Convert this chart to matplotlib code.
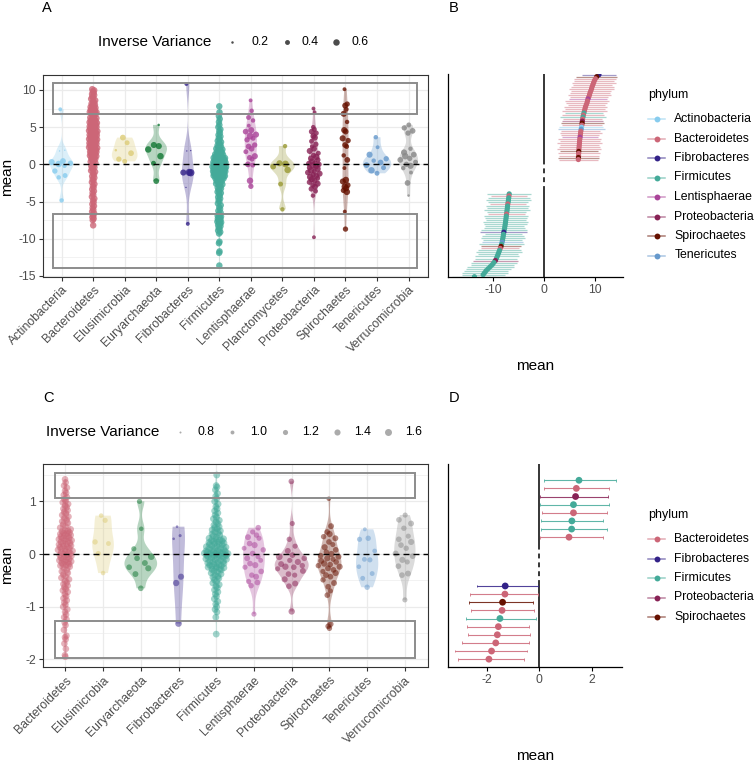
import numpy as np
import matplotlib
matplotlib.use("Agg")
import matplotlib.pyplot as plt
from matplotlib.patches import Rectangle

plt.rcParams['font.family'] = ['Liberation Sans', 'DejaVu Sans']
plt.rcParams['axes.unicode_minus'] = False

# ------------------------------------------------------------------ data
COLORS = {
    'Actinobacteria': '#88CCEE', 'Bacteroidetes': '#CC6677', 'Elusimicrobia': '#DDCC77',
    'Euryarchaeota': '#117733', 'Fibrobacteres': '#332288', 'Firmicutes': '#44AA99',
    'Lentisphaerae': '#AA4499', 'Planctomycetes': '#999933', 'Proteobacteria': '#882255',
    'Spirochaetes': '#661100', 'Tenericutes': '#6699CC', 'Verrucomicrobia': '#888888'}

phyla_a = ['Actinobacteria', 'Bacteroidetes', 'Elusimicrobia', 'Euryarchaeota', 'Fibrobacteres',
           'Firmicutes', 'Lentisphaerae', 'Planctomycetes', 'Proteobacteria', 'Spirochaetes',
           'Tenericutes', 'Verrucomicrobia']
phyla_c = ['Bacteroidetes', 'Elusimicrobia', 'Euryarchaeota', 'Fibrobacteres', 'Firmicutes',
           'Lentisphaerae', 'Proteobacteria', 'Spirochaetes', 'Tenericutes', 'Verrucomicrobia']

# Panel A: per-phylum means and inverse variances
a_actino = [7.4, 1.9, 1.8, 0.45, 0.3, 0.15, 0.05, -0.2, -0.9, -1.5, -1.75, -4.85]
a_actino_w = [0.3, 0.15, 0.15, 0.5, 0.55, 0.45, 0.6, 0.35, 0.45, 0.4, 0.35, 0.35]
a_bact = [10.1, 9.95, 9.8, 9.6, 9.45, 9.3, 9.1, 8.95, 8.8, 8.6, 8.45, 8.3, 8.15, 8.0, 7.9, 7.8,
          7.7, 7.6, 7.5, 7.45, 7.35, 7.3, 7.2, 7.15, 7.05, 7.0, 6.95, 6.9, 6.85,
          6.75, 6.6, 6.45, 6.3, 6.2, 6.1,
          6.0, 5.94, 5.86, 5.8, 5.71, 5.65, 5.57, 5.51, 5.44, 5.36, 5.3, 5.22, 5.16, 5.09, 5.03,
          4.95, 4.87, 4.81, 4.74, 4.66, 4.6, 4.53, 4.45, 4.39, 4.33, 4.25, 4.18, 4.1, 4.04,
          3.97, 3.9, 3.82, 3.76, 3.69, 3.61, 3.55, 3.48, 3.4, 3.34, 3.27, 3.2, 3.12, 3.06,
          2.99, 2.91, 2.85, 2.78, 2.7, 2.64, 2.57, 2.5, 2.42, 2.36, 2.29, 2.21, 2.15, 2.08,
          2.01, 1.93, 1.87, 1.8, 1.72, 1.66, 1.59, 1.51, 1.45, 1.38, 1.3, 1.24, 1.17, 1.1,
          1.0, 0.9, 0.8, 0.7, 0.6, 0.5,
          0.35, 0.2, 0.05, -0.1, -0.25, -0.4, -0.55, -0.7, -0.85, -1.0, -1.2, -1.4, -1.6,
          -1.8, -2.0, -2.2, -2.4, -2.65, -2.9, -3.1, -3.35, -3.6, -3.85, -4.1, -4.35, -4.6,
          -4.85, -5.1, -5.35, -5.6, -5.85, -6.1, -6.35, -6.55,
          -6.75, -6.9, -7.1, -7.3, -7.5, -8.2]
a_bact_w = 0.6
a_elus = [3.6, 2.9, 1.9, 1.5, 0.7, 0.4]
a_elus_w = [0.5, 0.4, 0.2, 0.5, 0.45, 0.4]
a_eury = [5.3, 2.6, 2.45, 2.0, 1.1, 0.15, -2.25]
a_eury_w = [0.2, 0.55, 0.55, 0.6, 0.6, 0.4, 0.5]
a_fibro = [10.8, 1.85, 1.8, -1.08, -1.1, -1.12, -3.1, -8.0]
a_fibro_w = [0.3, 0.15, 0.15, 0.7, 0.55, 0.75, 0.15, 0.3]
a_firm = [7.8, 7.0, 6.5, 6.1, 5.7, 5.3, 5.0, 4.7, 4.45, 4.2, 3.95, 3.75, 3.55, 3.35, 3.15, 3.0,
          2.85, 2.7, 2.55, 2.4, 2.3, 2.2, 2.1, 2.0, 1.9, 1.8, 1.7, 1.6, 1.5, 1.42, 1.35, 1.28,
          1.2, 1.13, 1.06, 1.0,
          0.96, 0.92, 0.88, 0.85, 0.81, 0.77, 0.73, 0.7, 0.66, 0.62, 0.58, 0.55, 0.51, 0.47,
          0.43, 0.4, 0.36, 0.32, 0.28, 0.25, 0.21, 0.17, 0.13, 0.1, 0.06, 0.02, -0.02, -0.05,
          -0.09, -0.13, -0.17, -0.2, -0.24, -0.28, -0.32, -0.35, -0.39, -0.43, -0.47, -0.5,
          -0.54, -0.58, -0.62, -0.65, -0.69, -0.73, -0.77, -0.8, -0.84, -0.88, -0.92, -0.95,
          -0.99, -1.03, -1.07, -1.1, -1.14, -1.18, -1.22, -1.25, -1.29, -1.33, -1.37, -1.4,
          -1.44, -1.48, -1.52, -1.55, -1.59, -1.63, -1.67, -1.7, -1.75, -1.8, -1.85,
          -1.9, -2.0, -2.1, -2.2, -2.3, -2.4, -2.5, -2.6, -2.7, -2.8, -2.95, -3.1, -3.25,
          -3.4, -3.55, -3.7, -3.85, -4.0, -4.2, -4.4, -4.6, -4.8, -5.0, -5.25, -5.5, -5.75,
          -6.0, -6.25, -6.5,
          -6.7, -6.8, -6.9, -7.0, -7.1, -7.2, -7.3, -7.4, -7.5, -7.6, -7.7, -7.8, -7.9, -8.0,
          -8.15, -8.3, -8.5, -8.7, -8.9, -9.1, -9.3, -10.4, -10.6, -11.7, -11.9, -13.6]
a_firm_w = 0.6
a_lenti = [8.6, 7.2, 6.3, 5.9, 5.2, 4.6, 4.4, 4.0, 3.8, 3.5, 3.3, 2.6, 2.4, 2.1, 1.7, 1.1,
           0.9, 0.7, 0.0, -0.1, -2.2, -2.95]
a_lenti_w = [0.3, 0.35, 0.4, 0.35, 0.3, 0.55, 0.5, 0.55, 0.65, 0.4, 0.45, 0.45, 0.5, 0.5,
             0.4, 0.55, 0.45, 0.4, 0.5, 0.4, 0.6, 0.45]
a_planc = [2.45, 0.15, 0.05, -0.3, -0.75, -2.65, -6.05]
a_planc_w = [0.35, 0.55, 0.65, 0.5, 0.6, 0.4, 0.35]
a_proteo = [7.5, 7.0, 5.0, 4.7, 4.4, 4.2, 3.8, 3.6, 3.1, 2.7, 2.4, 2.1, 1.8, 1.5, 1.2, 1.0,
            0.8, 0.6, 0.4, 0.2, 0.1, 0.0, -0.15, -0.3, -0.45, -0.6, -0.8, -0.95, -1.1, -1.25,
            -1.4, -1.55, -1.7, -1.85, -2.0, -2.2, -2.4, -2.6, -2.8, -3.0, -3.3, -3.6, -4.2, -9.8]
a_proteo_w = [0.3, 0.3, 0.35, 0.4, 0.5, 0.45, 0.5, 0.55, 0.4, 0.45, 0.35, 0.5, 0.55, 0.4,
              0.45, 0.6, 0.5, 0.45, 0.55, 0.4, 0.5, 0.45, 0.6, 0.5, 0.45, 0.55, 0.6, 0.4, 0.5,
              0.55, 0.45, 0.5, 0.6, 0.4, 0.55, 0.5, 0.45, 0.55, 0.4, 0.5, 0.45, 0.4, 0.35, 0.3]
a_spiro = [10.1, 8.1, 7.9, 7.4, 6.8, 5.7, 4.6, 4.4, 3.5, 3.2, 2.6, 2.4, 1.2, 0.6, -0.5, -2.1,
           -2.3, -2.8, -3.0, -3.2, -3.5, -3.7, -6.35, -8.7]
a_spiro_w = [0.3, 0.45, 0.5, 0.4, 0.55, 0.35, 0.55, 0.5, 0.55, 0.45, 0.5, 0.4, 0.35, 0.5,
             0.3, 0.6, 0.55, 0.5, 0.6, 0.55, 0.45, 0.6, 0.3, 0.45]
a_teneri = [3.65, 2.3, 1.3, 0.75, 0.5, 0.25, -0.1, -0.45, -0.8, -1.2]
a_teneri_w = [0.35, 0.3, 0.55, 0.45, 0.35, 0.5, 0.5, 0.4, 0.6, 0.4]
a_verru = [5.3, 4.9, 4.5, 4.2, 2.1, 1.6, 1.3, 1.1, 0.8, 0.6, 0.3, 0.0, -0.2, -0.5, -1.1, -2.5, -4.2]
a_verru_w = [0.4, 0.45, 0.5, 0.45, 0.35, 0.55, 0.5, 0.6, 0.45, 0.5, 0.4, 0.45, 0.55, 0.35,
             0.3, 0.5, 0.2]

# Panel C
c_bact = [1.42, 1.36, 1.3, 1.26, 1.2, 1.16, 1.12, 1.08,
          1.04, 1.01, 0.98, 0.95, 0.92, 0.89, 0.86, 0.83, 0.8, 0.77, 0.74, 0.71, 0.68, 0.65,
          0.62, 0.59, 0.56, 0.53, 0.5, 0.47,
          0.45, 0.44, 0.43, 0.41, 0.4, 0.39, 0.38, 0.36, 0.35, 0.34, 0.33, 0.31, 0.3, 0.29,
          0.28, 0.26, 0.25, 0.24, 0.23, 0.21, 0.2, 0.19, 0.18, 0.16, 0.15, 0.14, 0.13, 0.11,
          0.1, 0.09, 0.08, 0.06, 0.05, 0.04, 0.03, 0.01, 0.0, -0.01, -0.02, -0.04, -0.05,
          -0.06, -0.07, -0.09, -0.1, -0.11, -0.12, -0.14, -0.15, -0.16, -0.17, -0.19, -0.2,
          -0.21, -0.22, -0.24,
          -0.27, -0.3, -0.33, -0.36, -0.39, -0.42, -0.45, -0.48, -0.51, -0.54, -0.57, -0.6,
          -0.63, -0.66, -0.69, -0.72, -0.76, -0.8, -0.84, -0.88, -0.92, -0.96, -1.0, -1.05,
          -1.1, -1.15, -1.2, -1.24,
          -1.3, -1.35, -1.44, -1.55, -1.58, -1.62, -1.7, -1.8, -1.92, -1.95]
c_bact_w = 1.5
c_elus = [0.73, 0.64, 0.23, 0.2, 0.01, -0.36]
c_elus_w = [1.1, 1.2, 1.25, 1.15, 1.2, 1.1]
c_eury = [1.0, 0.48, 0.1, -0.05, -0.08, -0.17, -0.25, -0.27, -0.38, -0.65]
c_eury_w = [1.2, 1.1, 1.2, 1.5, 1.3, 1.35, 1.3, 1.4, 1.35, 1.3]
c_fibro = [0.52, 0.35, 0.29, -0.43, -0.55, -1.32]
c_fibro_w = [0.85, 0.9, 0.85, 1.4, 1.45, 1.5]
c_firm = [1.5, 1.3, 1.27, 1.22, 1.15, 1.1, 1.05, 1.0, 0.95, 0.9, 0.86, 0.82, 0.78, 0.74, 0.7,
          0.67, 0.64, 0.61, 0.58, 0.55, 0.52, 0.5, 0.48, 0.46, 0.44, 0.42, 0.4, 0.38, 0.36,
          0.34, 0.32,
          0.3, 0.29, 0.28, 0.27, 0.26, 0.25, 0.24, 0.23, 0.22, 0.21, 0.2, 0.19, 0.18, 0.17,
          0.16, 0.15, 0.14, 0.13, 0.12, 0.11, 0.1, 0.09, 0.08, 0.07, 0.06, 0.05, 0.045, 0.04,
          0.035, 0.03, 0.025, 0.02, 0.015, 0.01, 0.005, 0.0, -0.005, -0.01, -0.015, -0.02,
          -0.025, -0.03, -0.035, -0.04, -0.05, -0.06, -0.07, -0.08, -0.09, -0.1, -0.11, -0.12,
          -0.13, -0.14, -0.15, -0.16, -0.17, -0.18, -0.19, -0.2, -0.21, -0.22, -0.23, -0.24,
          -0.25, -0.26, -0.27, -0.28, -0.29, -0.3,
          -0.32, -0.34, -0.36, -0.38, -0.4, -0.42, -0.44, -0.46, -0.49, -0.52, -0.55, -0.58,
          -0.61, -0.64, -0.68, -0.72, -0.76, -0.8, -0.85, -0.9, -0.95, -1.0, -1.05, -1.1,
          -1.2, -1.52]
c_firm_w = 1.55
c_lenti = [0.5, 0.42, 0.36, 0.32, 0.3, 0.2, 0.17, 0.11, 0.08, 0.01, -0.05, -0.08, -0.12,
           -0.18, -0.21, -0.25, -0.33, -0.4, -0.43, -0.52, -0.54, -0.6, -1.14]
c_lenti_w = [1.3, 1.2, 1.25, 1.35, 1.2, 1.3, 1.4, 1.15, 1.25, 1.3, 1.2, 1.35, 1.15, 1.3, 1.4,
             1.2, 1.3, 1.25, 1.35, 1.2, 1.3, 1.25, 1.2]
c_proteo = [1.38, 0.58, 0.28, 0.15, 0.06, -0.02, -0.05, -0.08, -0.12, -0.15, -0.19, -0.22,
            -0.24, -0.25, -0.28, -0.32, -0.38, -0.4, -0.48, -0.56, -0.61, -1.09]
c_proteo_w = [1.3, 1.2, 1.25, 1.2, 1.35, 1.3, 1.55, 1.3, 1.2, 1.4, 1.35, 1.25, 1.45, 1.3,
              1.2, 1.35, 1.3, 1.2, 1.4, 1.35, 1.3, 1.45]
c_spiro = [1.05, 0.53, 0.42, 0.38, 0.33, 0.3, 0.23, 0.18, 0.13, 0.08, 0.04, 0.0, -0.03, -0.05,
           -0.08, -0.1, -0.13, -0.15, -0.18, -0.2, -0.22, -0.24, -0.27, -0.3, -0.33, -0.36,
           -0.4, -0.43, -0.49, -0.55, -0.62, -0.7, -0.78, -1.33, -1.37, -1.41]
c_spiro_w = [1.1, 1.35, 1.3, 1.4, 1.25, 1.35, 1.3, 1.2, 1.4, 1.3, 1.25, 1.45, 1.3, 1.35, 1.4,
             1.2, 1.35, 1.3, 1.45, 1.3, 1.25, 1.4, 1.35, 1.3, 1.2, 1.4, 1.35, 1.3, 1.25, 1.35,
             1.3, 1.2, 1.3, 1.35, 1.3, 1.25]
c_teneri = [0.47, 0.3, 0.28, 0.06, -0.1, -0.11, -0.24, -0.37, -0.46, -0.63]
c_teneri_w = [1.0, 1.25, 1.2, 1.1, 1.15, 1.2, 1.1, 1.15, 1.15, 1.25]
c_verru = [0.74, 0.65, 0.58, 0.49, 0.34, 0.28, 0.23, 0.17, 0.11, 0.01, -0.04, -0.11, -0.15,
           -0.23, -0.37, -0.4, -0.87]
c_verru_w = [1.2, 1.3, 1.35, 1.25, 1.2, 1.3, 1.4, 1.3, 1.25, 1.35, 1.3, 1.4, 1.2, 1.3, 1.35,
             1.3, 1.2]

# Panel B: highlighted estimates (upper block listed top to bottom, lower block top to bottom)
b_top_mean = [10.75, 10.3, 10.05, 9.85, 9.7, 9.55, 9.4, 9.3, 9.15, 9.0, 8.9, 8.75, 8.6, 8.5,
              8.4, 8.25, 8.1, 8.0, 7.9, 7.8, 7.7, 7.62, 7.55, 7.5, 7.45, 7.4, 7.33, 7.27, 7.2,
              7.15, 7.1, 7.05, 7.0, 6.96, 6.92, 6.89, 6.86, 6.83, 6.8, 6.78, 6.76, 6.74, 6.72]
b_top_err = [3.3, 4.0, 4.1, 3.9, 4.3, 3.8, 4.2, 4.4, 3.9, 4.0, 4.2, 3.7, 3.8, 4.3, 4.0, 3.6,
             4.2, 3.9, 4.4, 3.7, 4.1, 4.5, 3.8, 4.0, 4.2, 3.9, 4.3, 4.6, 3.8, 4.1, 3.7, 3.6,
             4.2, 3.9, 4.4, 3.8, 4.0, 4.3, 3.7, 4.1, 3.9, 4.0, 3.8]
b_top_phylum = ['Fibrobacteres', 'Spirochaetes'] + ['Bacteroidetes'] * 10 + ['Lentisphaerae'] + \
    ['Bacteroidetes'] * 6 + ['Firmicutes', 'Bacteroidetes', 'Firmicutes', 'Bacteroidetes',
                             'Proteobacteria', 'Spirochaetes', 'Bacteroidetes', 'Actinobacteria',
                             'Tenericutes'] + \
    ['Bacteroidetes'] * 3 + ['Lentisphaerae'] + ['Bacteroidetes'] * 6 + ['Spirochaetes'] + \
    ['Bacteroidetes'] * 2 + ['Spirochaetes', 'Bacteroidetes']
b_bot_mean = [-6.8, -6.85, -6.9, -6.95, -7.0, -7.08, -7.12, -7.17, -7.22, -7.27, -7.32, -7.37,
              -7.42, -7.47, -7.52, -7.58, -7.64, -7.7, -7.78, -7.85, -7.92, -7.98, -8.05, -8.12,
              -8.2, -8.3, -8.4, -8.55, -8.7, -8.85, -9.0, -9.15, -9.3, -9.5, -9.8, -10.1, -10.5,
              -10.9, -11.3, -11.6, -11.9, -13.6]
b_bot_err = [4.3, 3.6, 4.1, 4.4, 3.9, 3.5, 4.2, 4.0, 4.5, 3.8, 3.6, 4.3, 4.1, 3.9, 4.4, 4.2,
             3.8, 4.0, 4.5, 4.6, 3.7, 4.1, 4.3, 3.9, 4.0, 4.4, 3.9, 3.7, 4.2, 4.5, 4.0, 4.3,
             4.1, 4.4, 4.5, 4.2, 4.6, 4.4, 4.3, 4.5, 4.2, 4.3]
b_bot_phylum = ['Firmicutes', 'Bacteroidetes', 'Firmicutes', 'Firmicutes', 'Firmicutes',
                'Bacteroidetes'] + ['Firmicutes'] * 4 + ['Bacteroidetes'] + ['Firmicutes'] * 8 + \
    ['Fibrobacteres'] + ['Firmicutes'] * 4 + ['Tenericutes', 'Firmicutes', 'Spirochaetes',
                                              'Bacteroidetes'] + ['Firmicutes'] * 5 + \
    ['Proteobacteria'] + ['Firmicutes'] * 8
b_legend = ['Actinobacteria', 'Bacteroidetes', 'Fibrobacteres', 'Firmicutes', 'Lentisphaerae',
            'Proteobacteria', 'Spirochaetes', 'Tenericutes']

# Panel D
d_top_phylum = ['Firmicutes', 'Bacteroidetes', 'Proteobacteria', 'Firmicutes', 'Bacteroidetes',
                'Firmicutes', 'Firmicutes', 'Bacteroidetes']
d_top_mean = [1.51, 1.41, 1.38, 1.30, 1.30, 1.24, 1.23, 1.13]
d_top_lo = [0.18, 0.19, 0.03, 0.03, 0.11, 0.05, 0.05, 0.03]
d_top_hi = [2.91, 2.65, 2.63, 2.64, 2.57, 2.44, 2.57, 2.41]
d_bot_phylum = ['Fibrobacteres', 'Bacteroidetes', 'Spirochaetes', 'Bacteroidetes', 'Firmicutes',
                'Bacteroidetes', 'Bacteroidetes', 'Bacteroidetes', 'Bacteroidetes', 'Bacteroidetes']
d_bot_mean = [-1.30, -1.31, -1.40, -1.42, -1.50, -1.56, -1.60, -1.66, -1.82, -1.92]
d_bot_lo = [-2.36, -2.64, -2.67, -2.62, -2.79, -2.77, -2.70, -2.96, -3.21, -3.09]
d_bot_hi = [-0.04, -0.06, -0.23, -0.22, -0.13, -0.38, -0.36, -0.39, -0.46, -0.58]
d_legend = ['Bacteroidetes', 'Fibrobacteres', 'Firmicutes', 'Proteobacteria', 'Spirochaetes']

a_legend_vals = [0.2, 0.4, 0.6]
c_legend_vals = [0.8, 1.0, 1.2, 1.4, 1.6]
a_rects = [(6.8, 10.9), (-13.9, -6.65)]
c_rects = [(1.07, 1.53), (-1.98, -1.27)]

A_MEANS = dict(zip(phyla_a, [a_actino, a_bact, a_elus, a_eury, a_fibro, a_firm, a_lenti,
                             a_planc, a_proteo, a_spiro, a_teneri, a_verru]))
A_W = dict(zip(phyla_a, [a_actino_w, a_bact_w, a_elus_w, a_eury_w, a_fibro_w, a_firm_w,
                         a_lenti_w, a_planc_w, a_proteo_w, a_spiro_w, a_teneri_w, a_verru_w]))
C_MEANS = dict(zip(phyla_c, [c_bact, c_elus, c_eury, c_fibro, c_firm, c_lenti, c_proteo,
                             c_spiro, c_teneri, c_verru]))
C_W = dict(zip(phyla_c, [c_bact_w, c_elus_w, c_eury_w, c_fibro_w, c_firm_w, c_lenti_w,
                         c_proteo_w, c_spiro_w, c_teneri_w, c_verru_w]))

# ------------------------------------------------------------------ helpers
GREY30 = '#4D4D4D'
GREY20 = '#333333'


def size_a(w):
    w = np.asarray(w, float)
    return np.clip(0.5184 * (6.25 + 89.0 * (w - 0.2)), 0.8, None)


def size_c(w):
    w = np.asarray(w, float)
    return np.clip(0.5184 * (4.0 + 56.0 * (w - 0.8)), 0.8, None)


def bw_nrd0(x):
    n = len(x)
    sd = np.std(x, ddof=1)
    q75, q25 = np.percentile(x, [75, 25])
    lo = min(sd, (q75 - q25) / 1.34)
    if lo <= 0:
        lo = sd if sd > 0 else 1.0
    return 0.9 * lo * n ** -0.2


def kde(x, grid, bw):
    z = (grid[:, None] - x[None, :]) / bw
    return np.exp(-0.5 * z * z).sum(1) / (len(x) * bw * np.sqrt(2 * np.pi))


def vdc(n):
    out = []
    for k in range(1, n + 1):
        v, denom, kk = 0.0, 1.0, k
        while kk:
            denom *= 2
            kk, r = divmod(kk, 2)
            v += r / denom
        out.append(v)
    return np.array(out)


def violin_panel(ax, cats, means, weights, size_fn, pt_alpha, rects, ylim, major, minor):
    dens = []
    for c in cats:
        y = np.asarray(means[c], float)
        g = np.linspace(y.min(), y.max(), 512)
        dens.append((g, kde(y, g, bw_nrd0(y))))
    dmax = max(d.max() for _, d in dens)
    for i, c in enumerate(cats):
        g, d = dens[i]
        hw = d / dmax * 0.45
        ax.fill_betweenx(g, i + 1 - hw, i + 1 + hw, facecolor=COLORS[c], alpha=0.3, lw=0, zorder=2)
    for i, c in enumerate(cats):
        g, d = dens[i]
        y = np.asarray(means[c], float)
        w = np.broadcast_to(np.asarray(weights[c], float), y.shape)
        hwp = np.interp(y, g, d / dmax * 0.45)
        rank = np.argsort(np.argsort(y, kind='stable'), kind='stable')
        u = 2 * vdc(len(y))[rank] - 1
        ax.scatter(i + 1 + u * hwp, y, s=size_fn(w), color=COLORS[c], alpha=pt_alpha,
                   lw=0, zorder=3)
    ax.axhline(0, color='black', lw=1.0, ls=(0, (4.3, 2.9)), zorder=4)
    n = len(cats)
    for lo, hi in rects:
        ax.add_patch(Rectangle((0.72, lo), n - 0.44, hi - lo, fill=False, ec='#8C8C8C',
                               lw=1.4, zorder=5))
    ax.set_xlim(0.4, n + 0.6)
    ax.set_ylim(*ylim)
    ax.set_xticks(range(1, n + 1))
    ax.set_xticklabels(cats, rotation=45, ha='right', va='top', rotation_mode='anchor')
    ax.set_yticks(major)
    ax.set_yticklabels([('%g' % v) for v in major])
    ax.set_yticks(minor, minor=True)
    ax.grid(which='major', color='#EBEBEB', lw=0.9)
    ax.grid(which='minor', axis='y', color='#EBEBEB', lw=0.45)
    ax.set_axisbelow(True)
    for s in ax.spines.values():
        s.set_color(GREY20)
        s.set_linewidth(0.8)
    ax.tick_params(which='major', length=3, width=0.8, color=GREY20, labelsize=8.8,
                   labelcolor=GREY30, pad=2)
    ax.tick_params(which='minor', length=0)


def forest_panel(ax, top_mean, top_lo, top_hi, top_phy, bot_mean, bot_lo, bot_hi, bot_phy,
                 gap, ylim, xlim, xticks, bar_alpha, bar_lw, pt_s, cap, solid_top_pad,
                 solid_bot_pad):
    nb, nt = len(bot_mean), len(top_mean)
    yb = np.arange(nb, 0, -1, dtype=float)
    yt = nb + gap + np.arange(nt - 1, -1, -1, dtype=float)
    ys = np.concatenate([yt, yb])
    mean = np.concatenate([top_mean, bot_mean])
    lo = np.concatenate([top_lo, bot_lo])
    hi = np.concatenate([top_hi, bot_hi])
    phy = list(top_phy) + list(bot_phy)
    cols = [COLORS[p] for p in phy]
    ax.hlines(ys, lo, hi, colors=cols, alpha=bar_alpha, lw=bar_lw, zorder=2)
    if cap:
        ax.vlines(lo, ys - cap, ys + cap, colors=cols, alpha=bar_alpha, lw=bar_lw * 0.8, zorder=2)
        ax.vlines(hi, ys - cap, ys + cap, colors=cols, alpha=bar_alpha, lw=bar_lw * 0.8, zorder=2)
    ax.scatter(mean, ys, s=pt_s, c=cols, lw=0, zorder=3)
    y_top_low = yt.min() - solid_top_pad
    y_bot_high = yb.max() + solid_bot_pad
    ax.plot([0, 0], [y_top_low, ylim[1]], color='black', lw=1.1, zorder=1, solid_capstyle='butt')
    ax.plot([0, 0], [ylim[0], y_bot_high], color='black', lw=1.1, zorder=1, solid_capstyle='butt')
    ax.plot([0, 0], [y_bot_high, y_top_low], color='black', lw=1.1, ls=(0, (3.2, 2.6)), zorder=1)
    ax.set_xlim(*xlim)
    ax.set_ylim(*ylim)
    ax.set_xticks(xticks)
    ax.set_xticklabels([('%g' % v) for v in xticks])
    ax.set_yticks([])
    for s in ['top', 'right']:
        ax.spines[s].set_visible(False)
    for s in ['left', 'bottom']:
        ax.spines[s].set_color('black')
        ax.spines[s].set_linewidth(0.9)
    ax.tick_params(axis='x', length=3, width=0.8, color='black', labelsize=8.8,
                   labelcolor=GREY30, pad=2)


# ------------------------------------------------------------------ figure
fig = plt.figure(figsize=(7.56, 7.64), dpi=100)
W, H = 756.0, 764.0


def px_axes(l, t, r, b):
    return fig.add_axes([l / W, 1 - b / H, (r - l) / W, (b - t) / H])


axA = px_axes(42.7, 74.7, 427.5, 276.7)
axB = px_axes(447.7, 74.0, 623.0, 277.0)
axC = px_axes(42.7, 464.0, 427.5, 667.3)
axD = px_axes(447.7, 464.0, 622.3, 667.3)

violin_panel(axA, phyla_a, A_MEANS, A_W, size_a, 0.8, a_rects, (-15.1, 12.05),
             [-15, -10, -5, 0, 5, 10], [-12.5, -7.5, -2.5, 2.5, 7.5])
violin_panel(axC, phyla_c, C_MEANS, C_W, size_c, 0.5, c_rects, (-2.15, 1.71),
             [-2, -1, 0, 1], [-1.5, -0.5, 0.5, 1.5])

b_top_lo = np.array(b_top_mean) - np.array(b_top_err)
b_top_hi = np.array(b_top_mean) + np.array(b_top_err)
b_bot_lo = np.array(b_bot_mean) - np.array(b_bot_err)
b_bot_hi = np.array(b_bot_mean) + np.array(b_bot_err)
forest_panel(axB, b_top_mean, b_top_lo, b_top_hi, b_top_phylum,
             b_bot_mean, b_bot_lo, b_bot_hi, b_bot_phylum,
             gap=17, ylim=(0.85, 101.35), xlim=(-18.83, 15.45), xticks=[-10, 0, 10],
             bar_alpha=0.45, bar_lw=0.9, pt_s=14, cap=0, solid_top_pad=1.0, solid_bot_pad=1.3)
forest_panel(axD, d_top_mean, d_top_lo, d_top_hi, d_top_phylum,
             d_bot_mean, d_bot_lo, d_bot_hi, d_bot_phylum,
             gap=6, ylim=(0.0, 25.0), xlim=(-3.49, 3.16), xticks=[-2, 0, 2],
             bar_alpha=0.85, bar_lw=0.8, pt_s=24, cap=0.18, solid_top_pad=1.3, solid_bot_pad=0.1)

# overlay in pixel coordinates for labels and legends
ov = fig.add_axes([0, 0, 1, 1], facecolor='none')
ov.set_xlim(0, W)
ov.set_ylim(H, 0)
ov.axis('off')

for lab, x, y in [('A', 42, 8), ('B', 449, 8), ('C', 43, 398), ('D', 449, 398)]:
    ov.text(x, y, lab, fontsize=10.5, ha='left', va='center', color='black')

ov.text(7, 177, 'mean', rotation=90, fontsize=11, ha='center', va='center')
ov.text(7, 565, 'mean', rotation=90, fontsize=11, ha='center', va='center')
ov.text(535, 366, 'mean', fontsize=11, ha='center', va='center')
ov.text(535, 756, 'mean', fontsize=11, ha='center', va='center')

# size legends
ov.text(98, 42, 'Inverse Variance', fontsize=11, ha='left', va='center')
for v, xd, xt in zip(a_legend_vals, [232, 287, 336], [251, 302, 351]):
    ov.scatter([xd], [42], s=size_a([v]), color='black', alpha=0.7, lw=0)
    ov.text(xt, 42, '%.1f' % v, fontsize=8.8, ha='left', va='center', color='black')
ov.text(45.7, 432, 'Inverse Variance', fontsize=11, ha='left', va='center')
for v, xd, xt in zip(c_legend_vals, [180, 232, 285, 336.7, 388],
                     [197.7, 250, 301.7, 354, 405]):
    ov.scatter([xd], [432], s=size_c([v]), color='black', alpha=0.33, lw=0)
    ov.text(xt, 432, '%.1f' % v, fontsize=8.8, ha='left', va='center', color='black')


# phylum legends
def phylum_legend(names, y_title, y0, bar_alpha):
    ov.text(647.7, y_title, 'phylum', fontsize=9, ha='left', va='center')
    for k, nm in enumerate(names):
        y = y0 + 19.5 * k
        ov.plot([648.3, 665.0], [y, y], color=COLORS[nm], alpha=bar_alpha, lw=1.1)
        ov.scatter([656.7], [y], s=18, color=COLORS[nm], lw=0, zorder=3)
        ov.text(674.3, y, nm, fontsize=8.8, ha='left', va='center', color='black')


phylum_legend(b_legend, 95, 119, 0.55)
phylum_legend(d_legend, 515, 539, 0.55)

fig.savefig('out.png', dpi=100)
